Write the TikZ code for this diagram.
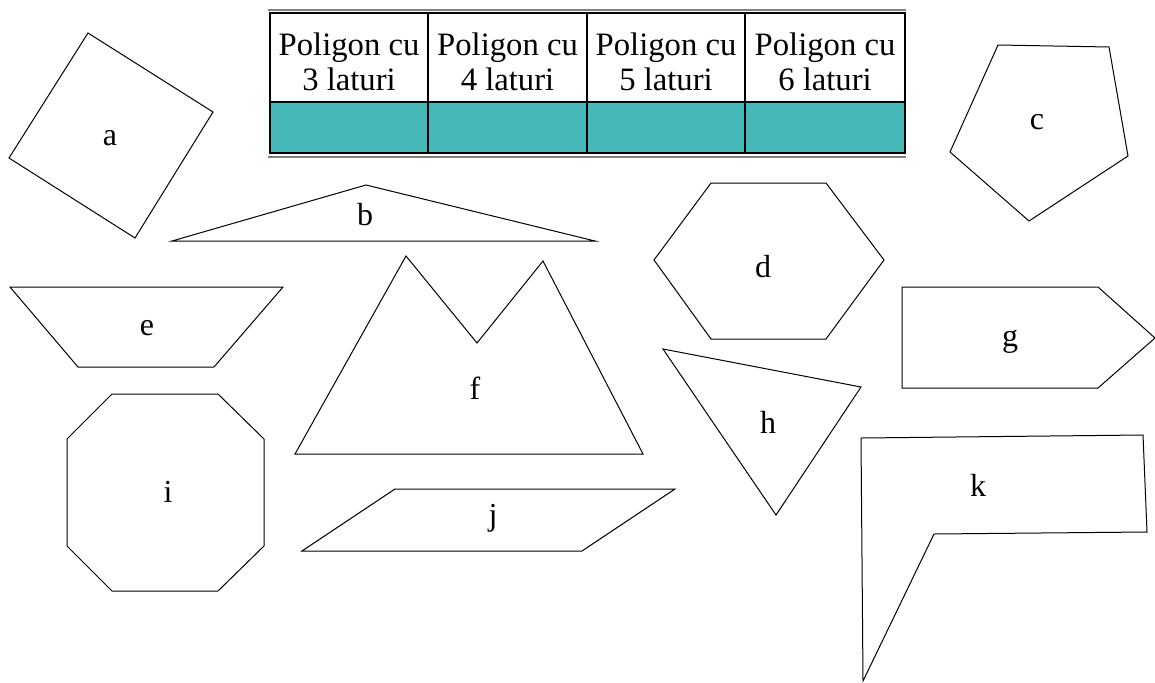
\documentclass[tikz,border=0pt]{standalone}
\usepackage{fontspec}
\setmainfont{Liberation Serif}
\definecolor{tealcell}{RGB}{70,184,184}
\begin{document}
\begin{tikzpicture}[x=0.75pt,y=-0.75pt,
  poly/.style={draw=black,line width=0.75pt,line join=miter},
  lbl/.style={font=\fontsize{24}{26}\selectfont,inner sep=0pt},
  hdr/.style={font=\fontsize{24.5}{26}\selectfont,align=center,inner sep=0pt},
  tline/.style={draw=black,line width=0.9pt},
  gline/.style={draw=gray,line width=0.9pt}]
\useasboundingbox (0,0) rectangle (1155,682);
% table
\fill[tealcell] (270,102) rectangle (905,153);
\draw[gline] (268,10) -- (906,10);
\draw[gline] (268,157) -- (906,157);
\draw[tline] (270,13) rectangle (905,153);
\draw[tline] (270,102) -- (905,102);
\foreach \xx in {428,587,745} \draw[tline] (\xx,13) -- (\xx,153);
\node[hdr] (h3) at (349,62) {Poligon cu\\3 laturi};
\node[hdr] (h4) at (507.5,62) {Poligon cu\\4 laturi};
\node[hdr] (h5) at (666,62) {Poligon cu\\5 laturi};
\node[hdr] (h6) at (825,62) {Poligon cu\\6 laturi};
% a
\draw[poly] (88,33) -- (213,112) -- (135,238) -- (9,158) -- cycle;
\node[lbl] (la) at (110,138) {a};
% b
\draw[poly] (172,241) -- (366,185) -- (595,241) -- cycle;
\node[lbl] (lb) at (365,215) {b};
% c
\draw[poly] (998,45) -- (1109,47) -- (1128,156) -- (1029,221) -- (950,152) -- cycle;
\node[lbl] (lc) at (1037,122) {c};
% d
\draw[poly] (711,183) -- (826,183) -- (884,260) -- (826,339) -- (711,339) -- (654,260) -- cycle;
\node[lbl] (ld) at (763,267) {d};
% e
\draw[poly] (10,287) -- (283,287) -- (214,367) -- (78,367) -- cycle;
\node[lbl] (le) at (147,328) {e};
% f
\draw[poly] (295,454) -- (406,256) -- (477,343) -- (543,261) -- (643,454) -- cycle;
\node[lbl] (lf) at (475,388) {f};
% g
\draw[poly] (902,287) -- (1098,287) -- (1155,338) -- (1098,388) -- (902,388) -- cycle;
\node[lbl] (lg) at (1010,342) {g};
% h
\draw[poly] (663,349) -- (861,387) -- (776,515) -- cycle;
\node[lbl] (lh) at (768,422) {h};
% i
\draw[poly] (112,394) -- (218,394) -- (264,439) -- (264,546) -- (218,591) -- (112,591) -- (67,546) -- (67,439) -- cycle;
\node[lbl] (li) at (168,492) {i};
% j
\draw[poly] (395,489) -- (675,489) -- (582,551) -- (302,551) -- cycle;
\node[lbl] (lj) at (493,518) {j};
% k
\draw[poly] (861,438) -- (1143,435) -- (1147,532) -- (934,534) -- (863,681) -- cycle;
\node[lbl] (lk) at (978,485) {k};
\end{tikzpicture}
\end{document}
